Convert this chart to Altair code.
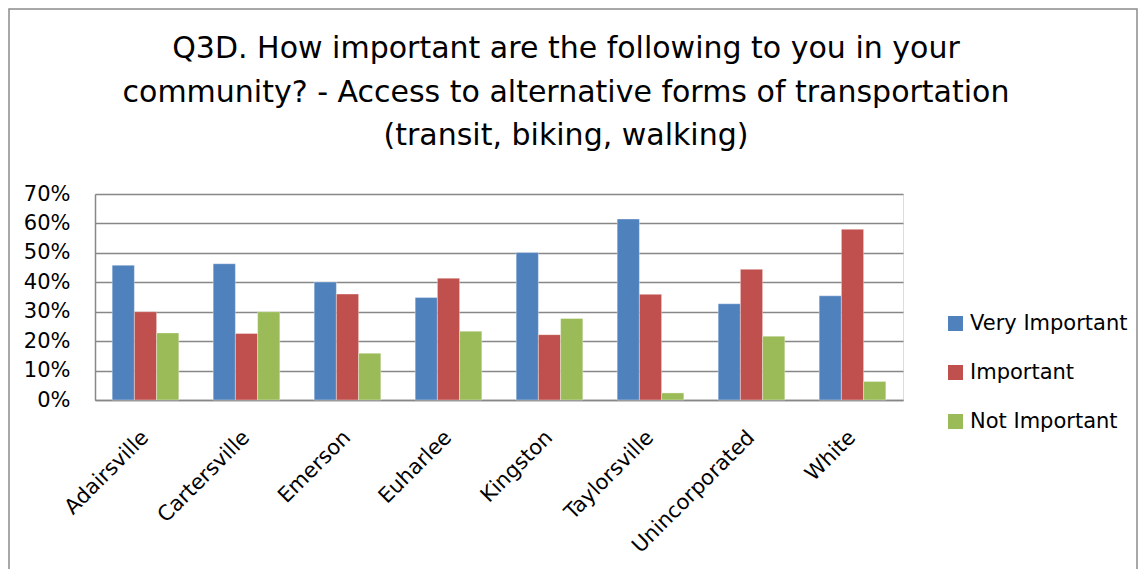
import altair as alt
import pandas as pd

cities = ["Adairsville", "Cartersville", "Emerson", "Euharlee", "Kingston",
          "Taylorsville", "Unincorporated", "White"]
series = ["Very Important", "Important", "Not Important"]
very_important = [0.458, 0.463, 0.401, 0.348, 0.501, 0.615, 0.327, 0.354]
important = [0.300, 0.226, 0.360, 0.414, 0.222, 0.359, 0.444, 0.580]
not_important = [0.228, 0.300, 0.159, 0.234, 0.277, 0.024, 0.217, 0.063]
colors = ["#4F81BD", "#C0504D", "#9BBB59"]
y_ticks = [0, 0.1, 0.2, 0.3, 0.4, 0.5, 0.6, 0.7]
title_lines = ["Q3D. How important are the following to you in your",
               "community? - Access to alternative forms of transportation",
               "(transit, biking, walking)"]

rows = []
for s, vals in zip(series, [very_important, important, not_important]):
    for c, v in zip(cities, vals):
        rows.append({"City": c, "Series": s, "Value": v})
df = pd.DataFrame(rows)

title_df = pd.DataFrame({"line": title_lines, "row": [0, 1, 2]})

FONT = "DejaVu Sans"

bars = alt.Chart(df).mark_bar(stroke="white", strokeWidth=0.6, strokeOpacity=0.6).encode(
    x=alt.X("City:N", sort=cities, title=None,
            scale=alt.Scale(paddingInner=0.34, paddingOuter=0.17),
            axis=alt.Axis(labelAngle=-45, labelFontSize=21, labelFont=FONT,
                          labelColor="#000000", ticks=False, domain=True,
                          domainColor="#878787", domainWidth=1.5,
                          labelPadding=34, labelAlign="right", labelBaseline="middle")),
    xOffset=alt.XOffset("Series:N", sort=series),
    y=alt.Y("Value:Q", title=None,
            scale=alt.Scale(domain=[0, 0.7], nice=False),
            axis=alt.Axis(values=y_ticks, format=".0%", labelFontSize=21,
                          labelFont=FONT, labelColor="#000000", ticks=False,
                          labelPadding=25, grid=True, gridColor="#878787",
                          gridWidth=1.5, domain=True, domainColor="#878787",
                          domainWidth=1.5)),
    color=alt.Color("Series:N", sort=series,
                    scale=alt.Scale(domain=series, range=colors),
                    legend=alt.Legend(title=None, orient="none", legendX=850,
                                      legendY=119, symbolType="square",
                                      symbolSize=225, symbolStrokeWidth=0,
                                      labelFontSize=21, labelFont=FONT,
                                      labelColor="#000000", rowPadding=27,
                                      labelOffset=4)),
)

border = alt.Chart(pd.DataFrame({"k": [0]})).transform_calculate(
    bx="-86", bx2="1042", by="-185", by2="400"
).mark_rect(fill="transparent", stroke="#8c8c8c", strokeWidth=1.5).encode(
    x=alt.X("bx:Q", scale=None),
    x2="bx2:Q",
    y=alt.Y("by:Q", scale=None),
    y2="by2:Q",
)

title = alt.Chart(title_df).transform_calculate(
    ypos="-136 + 43.5 * datum.row"
).mark_text(fontSize=30, font=FONT, color="#000000", align="center",
            baseline="alphabetic").encode(
    text="line:N",
    x=alt.value(471),
    y=alt.Y("ypos:Q", scale=None),
)

chart = alt.layer(border, title, bars).properties(
    width=808, height=206,
    autosize=alt.AutoSizeParams(type="none"),
    padding={"left": 87, "top": 186, "right": 236, "bottom": 169},
).configure_view(stroke=None).configure(background="white")

chart.save("out.html", embed_options={"renderer": "svg", "actions": False})
